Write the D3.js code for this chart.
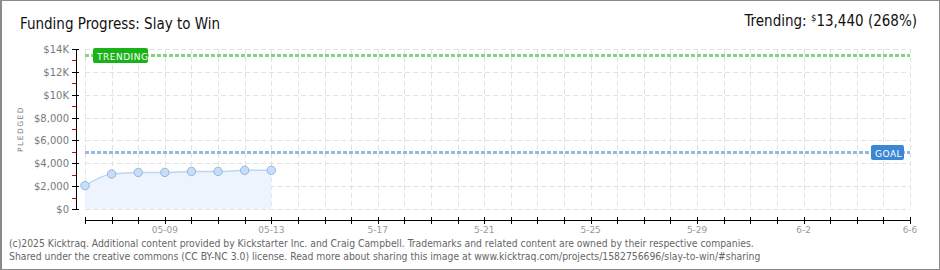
<!DOCTYPE html>
<html>
<head>
<meta charset="utf-8">
<script src="https://cdn.jsdelivr.net/npm/d3@7"></script>
<style>
  body { margin: 0; background: #fff; }
  svg { display: block; }
</style>
</head>
<body>
<div id="chart"></div>
<script>
// chart data
var days = ["2025-05-06", "2025-05-07", "2025-05-08", "2025-05-09", "2025-05-10", "2025-05-11", "2025-05-12", "2025-05-13"];
var pledged = [2040, 3060, 3200, 3200, 3290, 3290, 3380, 3380];
var goal = 5000;
var trending = 13440;
var trendPct = 268;
var yTicks = [0, 2000, 4000, 6000, 8000, 10000, 12000, 14000];
var xLabelDays = ["2025-05-09", "2025-05-13", "2025-05-17", "2025-05-21", "2025-05-25", "2025-05-29", "2025-06-02", "2025-06-06"];
var xLabels = ["05-09", "05-13", "5-17", "5-21", "5-25", "5-29", "6-2", "6-6"];
var dateRange = ["2025-05-06", "2025-06-06"];

var W = 940, H = 270;
var parse = d3.timeParse("%Y-%m-%d");
var fontMain = "'DejaVu Sans Condensed', sans-serif";

var svg = d3.select("#chart").append("svg").attr("width", W).attr("height", H);

svg.append("rect").attr("x", 0.5).attr("y", 0.5).attr("width", W - 1).attr("height", H - 1)
    .attr("fill", "#fff").attr("stroke", "#8a8a8a");
svg.append("line").attr("x1", 1.5).attr("x2", 1.5).attr("y1", 0).attr("y2", H).attr("stroke", "#8a8a8a");

var x = d3.scaleTime().domain(dateRange.map(parse)).range([85, 910]);
var y = d3.scaleLinear().domain([0, 14000]).range([209, 49]);

var allDays = d3.timeDay.range(parse(dateRange[0]), d3.timeDay.offset(parse(dateRange[1]), 1));

//grid
var grid = svg.append("g").attr("stroke", "#e2e2e2").attr("stroke-dasharray", "5,3");
grid.selectAll("line.v").data(allDays).enter().append("line")
    .attr("x1", function (d) { return Math.round(x(d)) + 0.5; })
    .attr("x2", function (d) { return Math.round(x(d)) + 0.5; })
    .attr("y1", y(14000)).attr("y2", y(0));
grid.selectAll("line.h").data(yTicks).enter().append("line")
    .attr("x1", x.range()[0]).attr("x2", x.range()[1])
    .attr("y1", function (d) { return Math.round(y(d)) + 0.5; })
    .attr("y2", function (d) { return Math.round(y(d)) + 0.5; });

//area + line
var pts = days.map(function (d, i) { return { date: parse(d), value: pledged[i] }; });
svg.append("path").datum(pts)
    .attr("fill", "#edf4fd")
    .attr("d", d3.area().x(function (d) { return x(d.date); }).y0(y(0)).y1(function (d) { return y(d.value); }));
svg.append("path").datum(pts)
    .attr("fill", "none").attr("stroke", "#bcd6f3").attr("stroke-width", 1.5)
    .attr("d", d3.line().curve(d3.curveMonotoneX).x(function (d) { return x(d.date); }).y(function (d) { return y(d.value); }));
svg.selectAll("circle.pt").data(pts).enter().append("circle")
    .attr("cx", function (d) { return x(d.date); })
    .attr("cy", function (d) { return y(d.value); })
    .attr("r", 4.2)
    .attr("fill", "#c7def7").attr("stroke", "#93b5dc").attr("stroke-width", 1);

//goal and trending lines
function refLine(val, color, label, fill, lx, lw) {
    var yy = Math.round(y(val)) + 0.5;
    svg.append("line").attr("x1", x.range()[0]).attr("x2", x.range()[1])
        .attr("y1", yy).attr("y2", yy)
        .attr("stroke", color).attr("stroke-width", 3).attr("stroke-dasharray", "4,2");
    svg.append("rect").attr("x", lx).attr("y", yy - 7.5).attr("width", lw).attr("height", 15)
        .attr("rx", 2).attr("fill", fill);
    svg.append("text").attr("x", lx + 4).attr("y", yy + 4)
        .attr("fill", "#fff").style("font-family", "'DejaVu Sans', sans-serif")
        .style("font-size", "9px").style("letter-spacing", "0.5px")
        .text(label);
}
refLine(trending, "#86d382", "TRENDING", "#19b319", 93, 55);
refLine(goal, "#93b8e2", "GOAL", "#3b87d6", 871, 33);

//y axis
var yAxis = svg.append("g");
yAxis.append("line").attr("x1", 76.5).attr("x2", 76.5).attr("y1", y(14000)).attr("y2", y(0)).attr("stroke", "#000");
yAxis.selectAll("line.maj").data(yTicks).enter().append("line")
    .attr("x1", 72).attr("x2", 79)
    .attr("y1", function (d) { return Math.round(y(d)) + 0.5; })
    .attr("y2", function (d) { return Math.round(y(d)) + 0.5; })
    .attr("stroke", "#000");
yAxis.selectAll("line.min").data(d3.range(1000, 14000, 2000)).enter().append("line")
    .attr("x1", 72).attr("x2", 76)
    .attr("y1", function (d) { return Math.round(y(d)) + 0.5; })
    .attr("y2", function (d) { return Math.round(y(d)) + 0.5; })
    .attr("stroke", "#e00000");
yAxis.selectAll("text").data(yTicks).enter().append("text")
    .attr("x", 69).attr("y", function (d) { return y(d) + 4; })
    .attr("text-anchor", "end").attr("fill", "#7a7a7a")
    .style("font-family", "'DejaVu Sans', sans-serif").style("font-size", "10px")
    .text(function (d) { return d >= 10000 ? "$" + d / 1000 + "K" : d3.format("$,")(d); });

svg.append("text").attr("transform", "translate(23,129) rotate(-90)")
    .attr("text-anchor", "middle").attr("fill", "#7a7a7a")
    .style("font-family", "'DejaVu Sans', sans-serif").style("font-size", "7.5px").style("letter-spacing", "1.5px")
    .text("PLEDGED");

//x axis
var xAxis = svg.append("g");
xAxis.append("line").attr("x1", x.range()[0]).attr("x2", x.range()[1]).attr("y1", 220.5).attr("y2", 220.5).attr("stroke", "#000");
xAxis.selectAll("line.t").data(allDays).enter().append("line")
    .attr("x1", function (d) { return Math.round(x(d)) + 0.5; })
    .attr("x2", function (d) { return Math.round(x(d)) + 0.5; })
    .attr("y1", 217).attr("y2", 224).attr("stroke", "#000");
xAxis.selectAll("text").data(xLabelDays).enter().append("text")
    .attr("x", function (d) { return x(parse(d)); }).attr("y", 233)
    .attr("text-anchor", "middle").attr("fill", "#999")
    .style("font-family", "'DejaVu Sans', sans-serif").style("font-size", "9px")
    .text(function (d, i) { return xLabels[i]; });

//titles
svg.append("text").attr("x", 20).attr("y", 29).attr("fill", "#111")
    .style("font-family", fontMain).style("font-size", "15px")
    .text("Funding Progress: Slay to Win");
var tr = svg.append("text").attr("x", 917).attr("y", 26).attr("text-anchor", "end").attr("fill", "#111")
    .style("font-family", fontMain).style("font-size", "15px");
tr.append("tspan").text("Trending:  ");
tr.append("tspan").attr("dy", -5).style("font-size", "9.5px").text("$");
tr.append("tspan").attr("dy", 5).text(d3.format(",")(trending) + " (" + trendPct + "%)");

//footer
var foot = svg.append("g").attr("fill", "#666").style("font-family", "'DejaVu Sans Condensed', sans-serif").style("font-size", "10.3px");
foot.append("text").attr("x", 9).attr("y", 247)
    .text("(c)2025 Kicktraq. Additional content provided by Kickstarter Inc. and Craig Campbell. Trademarks and related content are owned by their respective companies.");
foot.append("text").attr("x", 9).attr("y", 260)
    .text("Shared under the creative commons (CC BY-NC 3.0) license. Read more about sharing this image at www.kicktraq.com/projects/1582756696/slay-to-win/#sharing");
</script>
</body>
</html>
